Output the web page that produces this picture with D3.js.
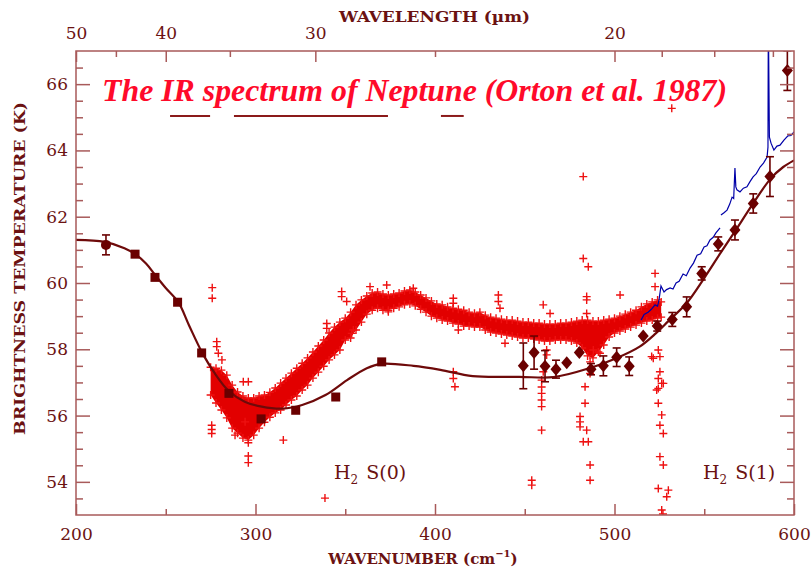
<!DOCTYPE html>
<html><head><meta charset="utf-8">
<script src="https://cdn.jsdelivr.net/npm/d3@7/dist/d3.min.js"></script>
<style>body{margin:0;background:#fff}</style>
</head><body>
<svg id="chart" width="811" height="573"></svg>
<script>
// ---------- DATA ----------
const bottomTicksMajor = [200, 300, 400, 500, 600];
const bottomTicksMinor = [250, 350, 450, 550];
const topTicksMajorUm = [50, 40, 30, 20];
const topTicksMinorUm = [45, 35, 25, 19, 18, 17];
const yTicksMajor = [54, 56, 58, 60, 62, 64, 66];
const yTicksMinor = [53.5, 54.5, 55, 55.5, 56.5, 57, 57.5, 58.5, 59, 59.5, 60.5, 61, 61.5, 62.5, 63, 63.5, 64.5, 65, 65.5, 66.5];

// smooth model curve
const modelWn = [200, 216, 227, 233, 239, 244, 250, 257, 263, 270, 277, 285, 294, 303.5, 315, 326, 339, 351, 362, 370, 388, 403, 421, 447, 466, 486, 501, 514, 523, 530, 540, 550, 559, 567, 577, 587, 594, 600];
const modelT  = [61.30, 61.24, 61.05, 60.87, 60.59, 60.25, 59.85, 59.42, 58.72, 57.93, 57.30, 56.75, 56.42, 56.27, 56.21, 56.32, 56.62, 57.07, 57.43, 57.56, 57.50, 57.38, 57.19, 57.17, 57.16, 57.43, 57.73, 58.08, 58.48, 58.85, 59.38, 60.15, 60.90, 61.55, 62.38, 63.15, 63.50, 63.70];

// square points
const squareWn = [232.9, 244.0, 256.6, 270.0, 285.2, 303.1, 322.4, 344.7, 370.3];
const squareT  = [60.87, 60.17, 59.42, 57.89, 56.67, 55.90, 56.16, 56.56, 57.62];
// circle point with error bar
const circleWn = [216.7];
const circleT = [61.15];
const circleErr = [0.3];

// diamonds with error bars
const diamondWn  = [449.2, 455.2, 461.3, 467.4, 473.4, 480.4, 486.9, 493.8, 501.2, 508.2, 516.0, 523.8, 532.2, 540.2, 548.6, 557.8, 567.1, 577.3, 586.6, 596.3];
const diamondT   = [57.50, 57.90, 57.49, 57.40, 57.59, 57.90, 57.40, 57.50, 57.76, 57.49, 58.40, 58.70, 58.90, 59.28, 60.29, 61.18, 61.60, 62.40, 63.21, 66.41];
const diamondErr = [0.69, 0.50, 0.47, 0.27, 0, 0, 0.17, 0.30, 0.28, 0.28, 0, 0.15, 0.21, 0.30, 0.20, 0.21, 0.30, 0.29, 0.60, 0.60];

// observed spectrum band (upper / lower edges)
const specWn = [275, 278, 281, 284, 287, 290, 293, 296, 299, 302, 305, 308, 311, 314, 317, 320, 323, 326, 329, 332, 335, 338, 341, 344, 347, 350, 353, 356, 359, 362, 365, 368, 371, 374, 377, 380, 383, 386, 389, 392, 395, 398, 401, 404, 407, 410, 413, 416, 419, 422, 425, 428, 431, 434, 437, 440, 443, 446, 449, 452, 455, 458, 461, 464, 467, 470, 473, 476, 479, 482, 485, 488, 491, 494, 497, 500, 503, 506, 509, 512, 515, 518, 521, 524, 526];
const specHi = [57.46, 57.43, 57.37, 57.22, 56.92, 56.71, 56.59, 56.53, 56.53, 56.59, 56.62, 56.70, 56.83, 56.98, 57.13, 57.28, 57.43, 57.58, 57.74, 57.92, 58.10, 58.28, 58.49, 58.67, 58.82, 58.94, 59.12, 59.34, 59.49, 59.61, 59.70, 59.73, 59.67, 59.64, 59.67, 59.70, 59.76, 59.79, 59.73, 59.64, 59.55, 59.46, 59.37, 59.34, 59.28, 59.24, 59.21, 59.18, 59.12, 59.09, 59.12, 59.03, 58.97, 58.94, 58.91, 58.88, 58.88, 58.85, 58.82, 58.82, 58.79, 58.79, 58.76, 58.76, 58.76, 58.79, 58.79, 58.82, 58.85, 58.88, 58.88, 58.85, 58.85, 58.88, 58.91, 58.94, 59.00, 59.06, 59.12, 59.18, 59.28, 59.37, 59.43, 59.49, 59.43];
const specLo = [56.62, 56.38, 56.17, 55.93, 55.62, 55.47, 55.32, 55.26, 55.41, 55.62, 55.80, 55.95, 56.08, 56.17, 56.32, 56.47, 56.59, 56.77, 56.92, 57.13, 57.31, 57.49, 57.68, 57.83, 57.98, 58.28, 58.34, 58.58, 58.82, 59.06, 59.18, 59.24, 59.18, 59.18, 59.24, 59.28, 59.34, 59.37, 59.31, 59.21, 59.12, 59.00, 58.94, 58.88, 58.85, 58.79, 58.76, 58.70, 58.70, 58.67, 58.67, 58.58, 58.52, 58.49, 58.46, 58.43, 58.40, 58.37, 58.34, 58.34, 58.31, 58.28, 58.25, 58.25, 58.28, 58.28, 58.28, 58.25, 58.19, 58.04, 57.80, 57.74, 57.92, 58.13, 58.37, 58.49, 58.55, 58.61, 58.67, 58.73, 58.79, 58.85, 58.88, 58.94, 58.97];

// scattered spectrum points
const outWn = [275.9, 275.9, 278.4, 278.4, 279.3, 281.3, 275.6, 275.6, 275.6, 296.0, 296.0, 296.0, 315.5, 293.2, 296.0, 288.6, 294.2, 338.7, 339.7, 339.7, 348.0, 348.0, 350.8, 354.5, 353.6, 363.8, 373.1, 374.0, 387.9, 410.2, 410.2, 413.0, 410.2, 410.2, 411.1, 435.3, 435.3, 436.2, 439.0, 460.3, 464.1, 484.5, 484.5, 459.4, 459.4, 459.4, 459.4, 459.4, 459.4, 453.9, 453.9, 483.6, 483.6, 480.8, 480.8, 480.8, 484.5, 482.6, 485.4, 486.4, 486.4, 462.2, 462.2, 488.2, 491.9, 486.4, 524.4, 525.3, 525.3, 524.4, 526.3, 524.4, 524.4, 526.3, 525.3, 527.2, 525.3, 527.2, 524.4, 530.0, 529.1, 526.3, 520.7, 527.0, 482.6, 482.6, 485.4, 484.5, 531.9, 522.6, 522.6, 503.1, 460.3, 486.4, 521.6, 527.2, 523.5];
const outT  = [59.86, 59.54, 58.23, 58.08, 57.88, 57.68, 55.71, 55.58, 55.46, 55.18, 54.78, 54.58, 55.26, 57.02, 57.02, 55.41, 55.81, 53.51, 58.78, 58.63, 59.74, 59.59, 59.44, 58.58, 58.48, 59.89, 59.94, 59.13, 59.84, 59.54, 59.39, 58.58, 57.32, 57.12, 56.87, 59.64, 59.44, 59.24, 58.18, 59.34, 59.08, 59.49, 59.08, 57.07, 56.86, 56.67, 56.47, 56.27, 55.56, 54.05, 53.90, 56.87, 56.37, 55.97, 55.81, 55.66, 55.56, 55.21, 55.21, 54.51, 54.05, 57.98, 57.83, 57.98, 57.88, 57.62, 57.98, 57.78, 57.32, 57.12, 56.97, 56.82, 56.37, 56.02, 55.71, 55.46, 54.76, 54.51, 53.80, 53.75, 53.55, 53.15, 57.78, 53.03, 63.21, 60.74, 60.49, 59.59, 65.27, 60.29, 59.89, 59.64, 57.32, 57.27, 57.73, 56.97, 56.77];

// blue spectrum (null = gap)
const blueWn = [514.8, 516.5, 518.7, 520.4, 522.6, 524.0, 524.8, 525.9, 527.6, 529.0, 531.0, 532.6, 534.3, 536.0, 538.2, 540.0, 542.1, 544.0, 546.0, 548.0, 549.9, 551.5, 553.2, 555.0, 556.5, 558.8, null, 559.3, 561.0, 562.7, 564.2, 565.5, 566.4, 567.1, 567.6, 568.2, 569.9, 571.8, 573.8, 575.4, 577.2, 579.0, 581.1, 583.0, 585.0, 585.5, 585.7, 586.3, 587.2, 588.8, 590.5, 592.2, 594.4, 596.6, 598.3, 600];
const blueT  = [58.88, 59.05, 59.12, 59.20, 59.34, 59.30, 59.49, 59.91, 59.73, 59.80, 59.85, 59.82, 60.00, 60.05, 60.27, 60.22, 60.45, 60.60, 60.84, 60.88, 61.09, 61.12, 61.30, 61.38, 61.51, 61.66, null, 62.05, 62.12, 62.20, 62.38, 62.59, 62.55, 63.47, 62.90, 62.81, 62.75, 62.86, 62.90, 63.05, 63.20, 63.30, 63.50, 63.62, 63.80, 64.10, 68.0, 64.40, 64.22, 64.01, 64.13, 64.16, 64.31, 64.44, 64.45, 64.56];

// spectral-range underlines
const rangeStart = [252.4, 288.0, 403.3];
const rangeEnd = [274.7, 373.8, 416.0];
const rangeT = 65.04;

// ---------- DRAW ----------
const svg = d3.select("#chart");
const x = d3.scaleLinear().domain([200, 600]).range([76, 794]);
const y = d3.scaleLinear().domain([53, 67]).range([515, 51]);
const axisCol = "#a85a5a", textCol = "#6b1212", marCol = "#6a0000";
const serif = "'DejaVu Serif', serif";

svg.append("defs").append("clipPath").attr("id", "clip")
  .append("rect").attr("x", 76).attr("y", 51).attr("width", 718).attr("height", 464);
const plot = svg.append("g").attr("clip-path", "url(#clip)");

// band
const band = specWn.map((w, i) => ({w, hi: specHi[i], lo: specLo[i]}));
plot.append("path").datum(band)
  .attr("d", d3.area().x(d => x(d.w)).y0(d => y(d.lo)).y1(d => y(d.hi)).curve(d3.curveLinear))
  .attr("fill", "#e20000");
const plus = "M-4,0H4M0,-4V4";
const plusPts = [];
band.forEach(d => { plusPts.push([d.w, d.hi]); plusPts.push([d.w, d.lo]); });
outWn.forEach((w, i) => plusPts.push([w, outT[i]]));
plot.selectAll("path.plus").data(plusPts).join("path").attr("class", "plus")
  .attr("transform", d => `translate(${x(d[0])},${y(d[1])})`)
  .attr("d", plus).attr("stroke", "#ee1111").attr("stroke-width", 1.4).attr("fill", "none");

// blue line
const blue = blueWn.map((w, i) => ({w, t: blueT[i]}));
plot.append("path").datum(blue)
  .attr("d", d3.line().defined(d => d.w !== null).x(d => x(d.w)).y(d => y(d.t)))
  .attr("fill", "none").attr("stroke", "#0000a8").attr("stroke-width", 1.2);

// model curve
const model = modelWn.map((w, i) => ({w, t: modelT[i]}));
plot.append("path").datum(model)
  .attr("d", d3.line().x(d => x(d.w)).y(d => y(d.t)).curve(d3.curveCatmullRom.alpha(0.5)))
  .attr("fill", "none").attr("stroke", "#6e0a0a").attr("stroke-width", 2.2);

// error bars
function errBars(wn, t, err) {
  const d = wn.map((w, i) => ({w, t: t[i], e: err[i]})).filter(d => d.e > 0);
  const g = plot.append("g").attr("stroke", marCol).attr("stroke-width", 1.6);
  g.selectAll("line.v").data(d).join("line").attr("x1", d => x(d.w)).attr("x2", d => x(d.w))
    .attr("y1", d => y(d.t - d.e)).attr("y2", d => y(d.t + d.e));
  g.selectAll("line.t").data(d).join("line").attr("x1", d => x(d.w) - 4).attr("x2", d => x(d.w) + 4)
    .attr("y1", d => y(d.t + d.e)).attr("y2", d => y(d.t + d.e));
  g.selectAll("line.b").data(d).join("line").attr("x1", d => x(d.w) - 4).attr("x2", d => x(d.w) + 4)
    .attr("y1", d => y(d.t - d.e)).attr("y2", d => y(d.t - d.e));
}
errBars(circleWn, circleT, circleErr);
errBars(diamondWn, diamondT, diamondErr);

plot.selectAll("rect.sq").data(squareWn.map((w, i) => [w, squareT[i]])).join("rect")
  .attr("x", d => x(d[0]) - 4.5).attr("y", d => y(d[1]) - 4.5).attr("width", 9).attr("height", 9).attr("fill", marCol);
plot.selectAll("circle.c").data(circleWn.map((w, i) => [w, circleT[i]])).join("circle")
  .attr("cx", d => x(d[0])).attr("cy", d => y(d[1])).attr("r", 5).attr("fill", marCol);
plot.selectAll("path.dia").data(diamondWn.map((w, i) => [w, diamondT[i]])).join("path")
  .attr("transform", d => `translate(${x(d[0])},${y(d[1])})`)
  .attr("d", "M0,-6.5L5.5,0L0,6.5L-5.5,0Z").attr("fill", marCol);

// range underlines
svg.selectAll("line.rng").data(rangeStart.map((s, i) => [s, rangeEnd[i]])).join("line")
  .attr("x1", d => x(d[0])).attr("x2", d => x(d[1])).attr("y1", y(rangeT)).attr("y2", y(rangeT))
  .attr("stroke", "#8b1a1a").attr("stroke-width", 2);

// axes
function styleAxis(g) {
  g.select(".domain").remove();
  g.selectAll(".tick line").attr("stroke", axisCol).attr("stroke-width", 1.5);
  g.selectAll(".tick text").attr("fill", textCol).attr("font-family", serif).attr("font-size", 17);
}
svg.append("g").attr("transform", "translate(0,515)")
  .call(d3.axisBottom(x).tickValues(bottomTicksMajor).tickSize(-11).tickPadding(13).tickFormat(d3.format("d"))).call(styleAxis);
svg.append("g").attr("transform", "translate(0,515)")
  .call(d3.axisBottom(x).tickValues(bottomTicksMinor).tickSize(-6).tickFormat("")).call(styleAxis);
svg.append("g").attr("transform", "translate(0,51)")
  .call(d3.axisTop(x).tickValues(topTicksMajorUm.map(u => 10000 / u)).tickSize(-11).tickPadding(12).tickFormat(d => Math.round(10000 / d))).call(styleAxis);
svg.append("g").attr("transform", "translate(0,51)")
  .call(d3.axisTop(x).tickValues(topTicksMinorUm.map(u => 10000 / u)).tickSize(-6).tickFormat("")).call(styleAxis);
svg.append("g").attr("transform", "translate(76,0)")
  .call(d3.axisLeft(y).tickValues(yTicksMajor).tickSize(-14).tickPadding(8).tickFormat(d3.format("d"))).call(styleAxis);
svg.append("g").attr("transform", "translate(76,0)")
  .call(d3.axisLeft(y).tickValues(yTicksMinor).tickSize(-7).tickFormat("")).call(styleAxis);
svg.append("g").attr("transform", "translate(794,0)")
  .call(d3.axisRight(y).tickValues(yTicksMajor).tickSize(-14).tickFormat("")).call(styleAxis);
svg.append("g").attr("transform", "translate(794,0)")
  .call(d3.axisRight(y).tickValues(yTicksMinor).tickSize(-7).tickFormat("")).call(styleAxis);

svg.append("rect").attr("x", 76).attr("y", 51).attr("width", 718).attr("height", 464)
  .attr("fill", "none").attr("stroke", axisCol).attr("stroke-width", 1.5);

// axis titles
svg.append("text").attr("x", 339).attr("y", 22)
  .attr("font-family", serif).attr("font-size", 15).attr("font-weight", "bold").attr("fill", textCol)
  .attr("textLength", 191).attr("lengthAdjust", "spacingAndGlyphs")
  .text("WAVELENGTH (µm)");
const wn = svg.append("text").attr("x", 423).attr("y", 564).attr("text-anchor", "middle")
  .attr("font-family", serif).attr("font-size", 15).attr("font-weight", "bold").attr("fill", textCol);
wn.append("tspan").text("WAVENUMBER (cm");
wn.append("tspan").attr("dy", -7).attr("font-size", 10).text("−1");
wn.append("tspan").attr("dy", 7).text(")");
svg.append("text").attr("transform", "translate(25,435) rotate(-90)")
  .attr("font-family", serif).attr("font-size", 15).attr("font-weight", "bold").attr("fill", textCol)
  .attr("textLength", 333).attr("lengthAdjust", "spacingAndGlyphs")
  .text("BRIGHTNESS TEMPERATURE (K)");

// title
svg.append("text").attr("x", 102).attr("y", 101)
  .attr("font-family", "'Liberation Serif', serif").attr("font-style", "italic").attr("font-weight", "bold")
  .attr("font-size", 31).attr("fill", "#ff0a2a")
  .attr("textLength", 625).attr("lengthAdjust", "spacingAndGlyphs")
  .text("The IR spectrum of Neptune (Orton et al. 1987)");

// line labels
function h2label(xp, txt) {
  const t = svg.append("text").attr("x", xp).attr("y", 479)
    .attr("font-family", serif).attr("font-size", 19).attr("fill", textCol);
  t.append("tspan").text("H");
  t.append("tspan").attr("dy", 5).attr("font-size", 12).text("2");
  t.append("tspan").attr("dy", -5).attr("dx", 8).text(txt);
}
h2label(334, "S(0)");
h2label(703, "S(1)");
</script>
</body></html>
